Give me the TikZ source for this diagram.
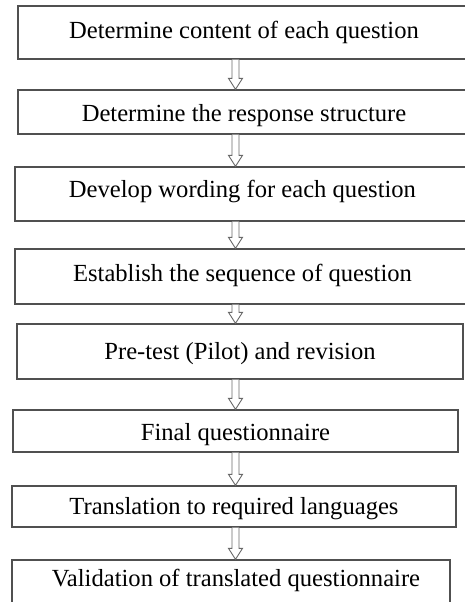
\documentclass[tikz,border=0pt]{standalone}
\usepackage{fontspec}
\setmainfont{Liberation Serif}
\usetikzlibrary{calc}
\definecolor{boxgray}{RGB}{80,80,80}
\definecolor{arrgray}{RGB}{105,105,105}
\newcommand{\harrow}[2]{%
  \draw[hollow] ($(#1.south -| ax)+(-3.5,0)$) -- ($(#2.north -| ax)+(-3.5,-11)$)
    -- ($(#2.north -| ax)+(-7,-11)$) -- (#2.north -| ax)
    -- ($(#2.north -| ax)+(7,-11)$) -- ($(#2.north -| ax)+(3.5,-11)$)
    -- ($(#1.south -| ax)+(3.5,0)$);}
\begin{document}
\begin{tikzpicture}[x=1pt,y=-1pt,
  txt/.style={font=\fontsize{24.6}{28}\selectfont, inner sep=0pt, text height=16.3pt, text depth=0pt},
  stepbox/.style={draw=boxgray, line width=1.3pt, txt},
  hollow/.style={draw=arrgray, line width=0.9pt, fill=white, line join=miter}]
\useasboundingbox (0,0) rectangle (465,602);
\fill[white] (0,0) rectangle (465,602);
\coordinate (ax) at (235.5,0);
\node[stepbox, minimum width=452pt, minimum height=53pt, text depth=4pt] (b1) at (244,32.5) {Determine content of each question};
\node[stepbox, minimum width=452pt, minimum height=44pt, text height=19.3pt] (b2) at (244,112) {Determine the response structure};
\node[stepbox, minimum width=455pt, minimum height=54pt, text depth=10pt] (b3) at (242.5,194) {Develop wording for each question};
\node[stepbox, minimum width=455pt, minimum height=55pt, text depth=6pt] (b4) at (242.5,276.5) {Establish the sequence of question};
\node[stepbox, minimum width=446pt, minimum height=55pt] (b5) at (240,351.5) {Pre-test (Pilot) and revision};
\node[stepbox, minimum width=445pt, minimum height=42pt, text height=19.3pt] (b6) at (235.5,431) {Final questionnaire};
\node[stepbox, minimum width=444pt, minimum height=41pt] (b7) at (234,506.5) {Translation to required languages};
\node[stepbox, minimum width=438pt, minimum height=60pt] (b8) at (231,590) {};
\node[txt] (t8) at (236,578) {Validation of translated questionnaire};
\harrow{b1}{b2}
\harrow{b2}{b3}
\harrow{b3}{b4}
\harrow{b4}{b5}
\harrow{b5}{b6}
\harrow{b6}{b7}
\harrow{b7}{b8}
\end{tikzpicture}
\end{document}
